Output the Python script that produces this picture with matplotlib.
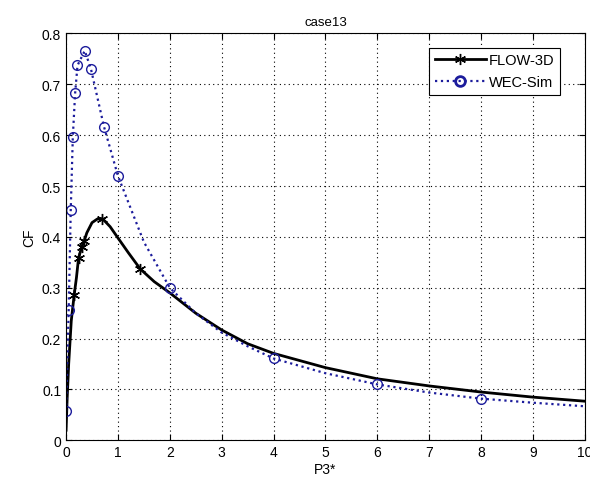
import matplotlib
matplotlib.use("Agg")
from matplotlib import pyplot as plt
from matplotlib.lines import Line2D

# FLOW-3D curve (solid black, markers only on the measured points)
flow_x = [0, 0.02, 0.05, 0.1, 0.155, 0.2, 0.24, 0.3, 0.35, 0.4, 0.5, 0.6, 0.7, 0.85, 1.0,
          1.2, 1.43, 1.7, 2.0, 2.5, 3.0, 3.5, 4, 5, 6, 7, 8, 9, 10]
flow_y = [0.02, 0.08, 0.15, 0.235, 0.285, 0.32, 0.358, 0.38, 0.392, 0.408, 0.428, 0.435, 0.436,
          0.42, 0.398, 0.369, 0.337, 0.312, 0.29, 0.25, 0.217, 0.19, 0.171, 0.143, 0.121,
          0.107, 0.095, 0.085, 0.077]
flow_marks = [4, 6, 7, 8, 12, 16]

# WEC-Sim curve (dotted blue, circles on the computed points)
wec_x = [0, 0.05, 0.09, 0.13, 0.175, 0.22, 0.36, 0.48, 0.73, 1.0, 1.5, 2, 2.5, 3, 3.5, 4,
         5, 6, 7, 8, 9, 10]
wec_y = [0.057, 0.256, 0.453, 0.597, 0.683, 0.737, 0.766, 0.73, 0.617, 0.52, 0.39, 0.30,
         0.25, 0.212, 0.185, 0.161, 0.132, 0.11, 0.094, 0.082, 0.074, 0.067]
wec_marks = [0, 1, 2, 3, 4, 5, 6, 7, 8, 9, 11, 15, 17, 19]

BLUE = '#1c1c9c'
STAR = (6, 2, 0)

plt.rcParams['font.family'] = ['Liberation Sans', 'DejaVu Sans']
fig = plt.figure(figsize=(5.9, 4.85), dpi=100)
ax = fig.add_axes([0.112, 0.09, 0.879, 0.839])

ax.plot(flow_x, flow_y, color='black', linewidth=2, marker=STAR, markersize=8,
        markeredgewidth=1, markevery=flow_marks)
ax.plot(wec_x, wec_y, color=BLUE, linestyle=':', linewidth=1.6, marker='o',
        markersize=7, markerfacecolor='none', markeredgewidth=1, markevery=wec_marks)

ax.set_xlim(0, 10)
ax.set_ylim(0, 0.8)
ax.set_xticks(range(0, 11))
ax.set_yticks([i / 10 for i in range(9)])
ax.set_yticklabels(['0', '0.1', '0.2', '0.3', '0.4', '0.5', '0.6', '0.7', '0.8'])
ax.tick_params(direction='in', top=True, right=True, labelsize=10, length=4)
ax.grid(True, color='black', linestyle=(0, (1, 3)), linewidth=0.8)

ax.set_title('case13', fontsize=9.5)
ax.set_xlabel('P3*', fontsize=10, labelpad=2)
ax.set_ylabel('CF', fontsize=10)

# legend handles with one marker in the middle, like MATLAB
handles = [
    Line2D([], [], color='black', linewidth=2, marker=STAR, markersize=8, markeredgewidth=1),
    Line2D([], [], color=BLUE, linestyle=':', linewidth=1.6, marker='o', markersize=7,
           markerfacecolor='none', markeredgewidth=2),
]
leg = ax.legend(handles, ['FLOW-3D', 'WEC-Sim'], loc='upper right', fontsize=10.5,
                fancybox=False, framealpha=1, edgecolor='black', borderpad=0.4,
                handlelength=3.5, handletextpad=0.2, numpoints=1,
                bbox_to_anchor=(0.967, 0.983))
leg.get_frame().set_linewidth(0.8)

fig.savefig('out.png', dpi=100)
